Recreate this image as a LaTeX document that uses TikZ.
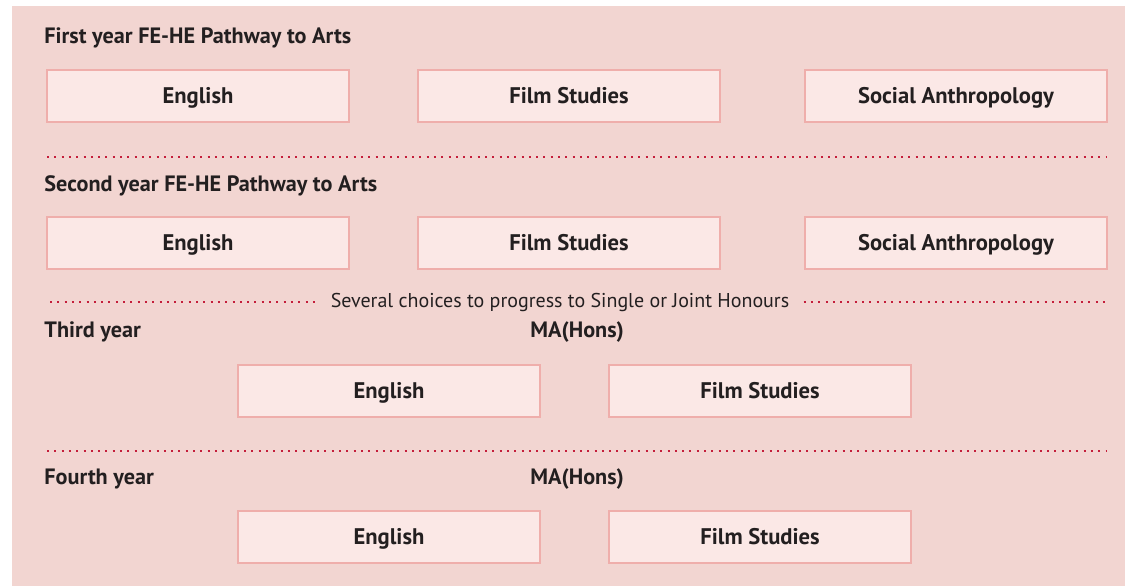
\documentclass[tikz,border=0pt]{standalone}
\usepackage{fontspec}
\setmainfont{PT Sans}
\usepackage{xcolor}
\usetikzlibrary{positioning}
\definecolor{pagebg}{HTML}{F2D5D1}
\definecolor{boxfill}{HTML}{FBE8E6}
\definecolor{boxline}{HTML}{EFAEAB}
\definecolor{dotred}{HTML}{C41E3A}
\definecolor{ink}{HTML}{231F20}

\begin{document}
\begin{tikzpicture}[x=0.5pt,y=-0.5pt,font=\fontsize{10}{12}\selectfont,text=ink]
  \tikzset{subject/.style={draw=boxline, fill=boxfill, line width=1.3pt,
                           minimum width=151pt, minimum height=26pt,
                           text height=1.8ex, text depth=0.4ex,
                           inner sep=0pt, font=\fontsize{11.3}{13}\selectfont\bfseries},
           heading/.style={anchor=west, inner sep=0pt, font=\fontsize{11.1}{13}\selectfont\bfseries},
           dotline/.style={draw=dotred, line width=1pt, dash pattern=on 1pt off 2.65pt}}
  \useasboundingbox (0,0) rectangle (1125,586);
  \fill[white] (0,0) rectangle (1125,586);
  \fill[pagebg] (12,6) rectangle (1125,586);

  % first year
  \node[heading] (y1) at (44,38) {First year FE-HE Pathway to Arts};
  \node[subject] (eng1)  at (198,96) {English};
  \node[subject] (film1) at (569,96) {Film Studies};
  \node[subject] (anth1) at (956,96) {Social Anthropology};

  \coordinate (d1l) at (47,157);
  \coordinate (d1r) at (1107,157);
  \draw[dotline] (d1l) -- (d1r);

  % second year
  \node[heading] (y2) at (44,186) {Second year FE-HE Pathway to Arts};
  \node[subject] (eng2)  at (198,243) {English};
  \node[subject] (film2) at (569,243) {Film Studies};
  \node[subject] (anth2) at (956,243) {Social Anthropology};

  \node[inner sep=0pt] (choices) at (560,302) {Several choices to progress to Single or Joint Honours};
  \coordinate (d2l) at (50,302);
  \coordinate (d2r) at (1107,302);
  \draw[dotline] (d2l) -- ([xshift=-7pt]choices.west);
  \draw[dotline] ([xshift=7pt]choices.east) -- (d2r);

  % third year
  \node[heading] (y3) at (44,332) {Third year};
  \node[heading] (ma3) at (530,332) {MA(Hons)};
  \node[subject] (eng3)  at (389,391) {English};
  \node[subject] (film3) at (760,391) {Film Studies};

  \coordinate (d3l) at (47,451);
  \coordinate (d3r) at (1107,451);
  \draw[dotline] (d3l) -- (d3r);

  % fourth year
  \node[heading] (y4) at (44,479) {Fourth year};
  \node[heading] (ma4) at (530,479) {MA(Hons)};
  \node[subject] (eng4)  at (389,537) {English};
  \node[subject] (film4) at (760,537) {Film Studies};
\end{tikzpicture}
\end{document}
